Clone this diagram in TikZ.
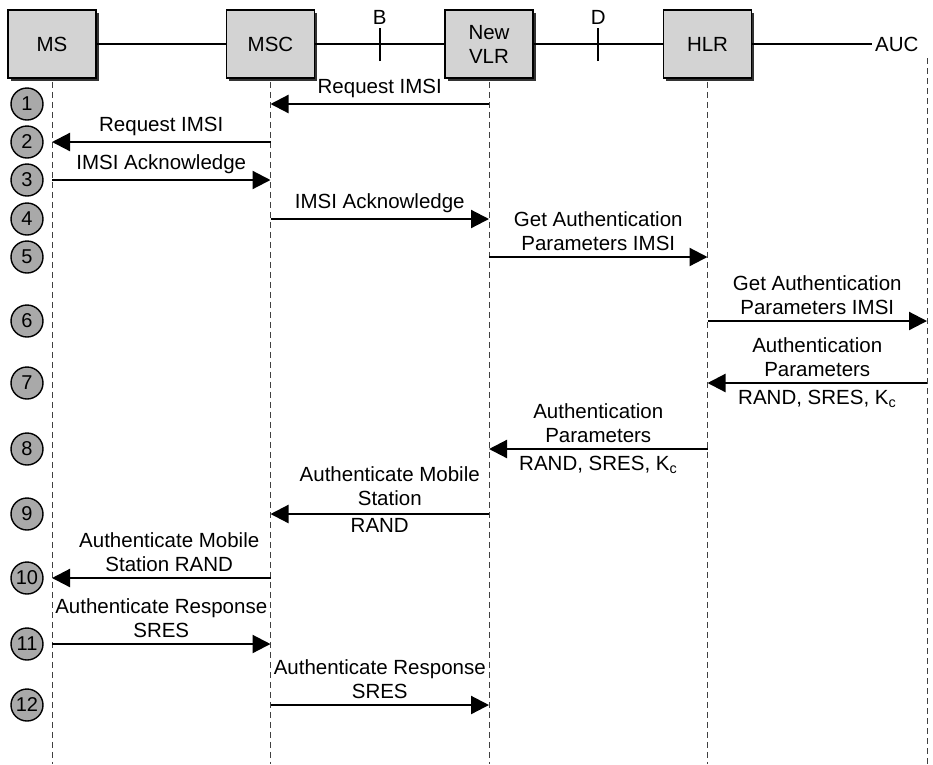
\documentclass[tikz,border=0pt]{standalone}
\usepackage{fontspec}
\setmainfont{Liberation Sans}
\usepackage{xcolor}
\usetikzlibrary{positioning,arrows.meta,shadows,calc}
\definecolor{boxgray}{HTML}{D3D3D3}
\definecolor{dotgray}{HTML}{A9A9A9}

\begin{document}
\begin{tikzpicture}[x=1pt, y=-1pt, entity/.style={draw, line width=1.5pt, fill=boxgray, minimum width=88pt, minimum height=68pt, align=center, font=\fontsize{20.5}{24}\selectfont, drop shadow={shadow xshift=2.5pt, shadow yshift=-2.5pt, fill=black!80, opacity=1}}, stepno/.style={circle, draw, line width=1.4pt, fill=dotgray, minimum size=32pt, inner sep=0pt, font=\fontsize{20}{20}\selectfont}, msg/.style={-{Triangle[length=18pt,width=18pt]}, line width=2.2pt}, life/.style={dash pattern=on 6pt off 4pt, line width=1pt, black!75}, lbl/.style={font=\fontsize{20.5}{24}\selectfont, align=center, inner sep=2pt}]
\useasboundingbox (0,0) rectangle (933,764);
\node[entity] (ms) at (52,44) {MS};
\node[entity, right=129pt of ms] (msc) {MSC};
\node[entity, right=129pt of msc] (vlr) {New\\VLR};
\node[entity, right=129pt of vlr] (hlr) {HLR};
\node[lbl, anchor=west, inner sep=3pt] (auc) at (872,44) {AUC};
\coordinate (aucl) at (927,58);
\draw[line width=1.8pt] (ms) -- (msc) -- (vlr) -- (hlr) -- (auc);
% interface marks
\coordinate (bmark) at ($(msc.east)!.5!(vlr.west)$);
\coordinate (dmark) at ($(vlr.east)!.5!(hlr.west)$);
\draw[line width=1.8pt] ([yshift=-17pt]bmark) -- ([yshift=16pt]bmark) node[lbl, above=1pt] (blbl) {B};
\draw[line width=1.8pt] ([yshift=-17pt]dmark) -- ([yshift=16pt]dmark) node[lbl, above=1pt] (dlbl) {D};
% lifelines
\foreach \e in {ms,msc,vlr,hlr}
  \draw[life] ([yshift=-3pt]\e.south) -- (\e.south |- 0,764);
\draw[life] (aucl) -- (aucl |- 0,764);
% step numbers
\foreach \n/\y in {1/104,2/142,3/180,4/219,5/257,6/321,7/383,8/449,9/514,10/578,11/644,12/705}
  \node[stepno] (s\n) at (27,\y) {\n};
% messages
\draw[msg] (vlr |- s1) -- node[lbl, above=3pt] {Request IMSI} (msc |- s1);
\draw[msg] (msc |- s2) -- node[lbl, above=3pt] {Request IMSI} (ms |- s2);
\draw[msg] (ms |- s3) -- node[lbl, above=3pt] {IMSI Acknowledge} (msc |- s3);
\draw[msg] (msc |- s4) -- node[lbl, above=3pt] {IMSI Acknowledge} (vlr |- s4);
\draw[msg] (vlr |- s5) -- node[lbl, above=3pt] {Get Authentication\\Parameters IMSI} (hlr |- s5);
\draw[msg] (hlr |- s6) -- node[lbl, above=3pt] {Get Authentication\\Parameters IMSI} (aucl |- s6);
\draw[msg] (aucl |- s7) -- node[lbl, above=3pt] {Authentication\\Parameters} node[lbl, below=4pt] {RAND, SRES, K\textsubscript{c}} (hlr |- s7);
\draw[msg] (hlr |- s8) -- node[lbl, above=3pt] {Authentication\\Parameters} node[lbl, below=4pt] {RAND, SRES, K\textsubscript{c}} (vlr |- s8);
\draw[msg] (vlr |- s9) -- node[lbl, above=5pt, xshift=10pt] {Authenticate Mobile\\Station} node[lbl, below=1pt] {RAND} (msc |- s9);
\draw[msg] (msc |- s10) -- node[lbl, above=3pt, xshift=8pt] {Authenticate Mobile\\Station RAND} (ms |- s10);
\draw[msg] (ms |- s11) -- node[lbl, above=3pt] {Authenticate Response\\SRES} (msc |- s11);
\draw[msg] (msc |- s12) -- node[lbl, above=3pt] {Authenticate Response\\SRES} (vlr |- s12);
\end{tikzpicture}
\end{document}
